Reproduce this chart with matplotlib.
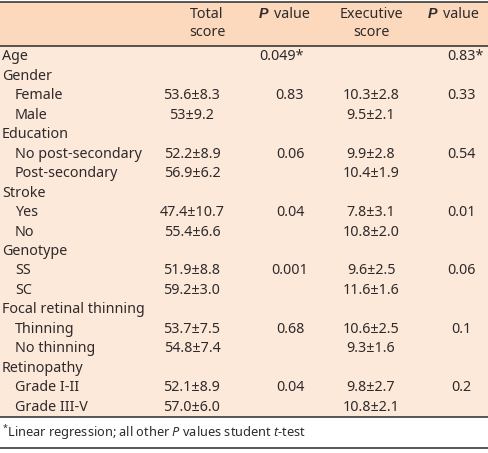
import matplotlib.pyplot as plt
from matplotlib.patches import Rectangle

plt.rcParams['font.family'] = ['Noto Sans', 'DejaVu Sans']
plt.rcParams['mathtext.fontset'] = 'custom'
plt.rcParams['mathtext.rm'] = 'Noto Sans'
plt.rcParams['mathtext.it'] = 'Noto Sans:italic'

# table content
groups = ['Age', 'Gender', 'Education', 'Stroke', 'Genotype',
          'Focal retinal thinning', 'Retinopathy']
subgroups = [[], ['Female', 'Male'], ['No post-secondary', 'Post-secondary'],
             ['Yes', 'No'], ['SS', 'SC'], ['Thinning', 'No thinning'],
             ['Grade I-II', 'Grade III-V']]
total_score = [[], ['53.6±8.3', '53±9.2'], ['52.2±8.9', '56.9±6.2'],
               ['47.4±10.7', '55.4±6.6'], ['51.9±8.8', '59.2±3.0'],
               ['53.7±7.5', '54.8±7.4'], ['52.1±8.9', '57.0±6.0']]
p_total = ['0.049*', '0.83', '0.06', '0.04', '0.001', '0.68', '0.04']
exec_score = [[], ['10.3±2.8', '9.5±2.1'], ['9.9±2.8', '10.4±1.9'],
              ['7.8±3.1', '10.8±2.0'], ['9.6±2.5', '11.6±1.6'],
              ['10.6±2.5', '9.3±1.6'], ['9.8±2.7', '10.8±2.1']]
p_exec = ['0.83*', '0.33', '0.54', '0.01', '0.06', '0.1', '0.2']

W, H = 488, 453
fig = plt.figure(figsize=(W / 100, H / 100), dpi=100)
ax = fig.add_axes([0, 0, 1, 1])
ax.set_xlim(0, W)
ax.set_ylim(H, 0)
ax.axis('off')

txt = '#2e2a2b'
fs = 10.3
head_bg = '#fcd9bd'
body_bg = '#fde9da'

top, head_bot, body_bot, foot_bot = 2, 46, 417, 448
ax.add_patch(Rectangle((0, top), W, head_bot - top, color=head_bg, lw=0))
ax.add_patch(Rectangle((0, head_bot), W, body_bot - head_bot, color=body_bg, lw=0))
for y in [top, head_bot, body_bot, foot_bot]:
    ax.plot([0, W], [y, y], color='#2b2b2b', lw=1.1)

col_x = [192, 290, 371, 461]

# header
ax.text(207, 14, 'Total', ha='center', va='center', fontsize=fs, color=txt)
ax.text(207, 33, 'score', ha='center', va='center', fontsize=fs, color=txt)
ax.text(col_x[2], 14, 'Executive', ha='center', va='center', fontsize=fs, color=txt)
ax.text(col_x[2], 33, 'score', ha='center', va='center', fontsize=fs, color=txt)
for px in [259, 428]:
    ax.text(px, 14, 'P', ha='left', va='center', fontsize=fs, color=txt,
            fontweight='bold', fontstyle='italic', family='Liberation Sans')
    ax.text(px + 15, 14, 'value', ha='left', va='center', fontsize=fs, color=txt)

# body
row_h = 19.45
y = 57
for i, g in enumerate(groups):
    ax.text(2, y, g, ha='left', va='center', fontsize=fs, color=txt)
    if not subgroups[i]:
        ax.text(304, y, p_total[i], ha='right', va='center', fontsize=fs, color=txt)
        ax.text(484, y, p_exec[i], ha='right', va='center', fontsize=fs, color=txt)
        y += row_h
        continue
    y += row_h
    for j, s in enumerate(subgroups[i]):
        ax.text(15, y, s, ha='left', va='center', fontsize=fs, color=txt)
        ax.text(col_x[0], y, total_score[i][j], ha='center', va='center', fontsize=fs, color=txt)
        ax.text(col_x[2], y, exec_score[i][j], ha='center', va='center', fontsize=fs, color=txt)
        if j == 0:
            ax.text(col_x[1], y, p_total[i], ha='center', va='center', fontsize=fs, color=txt)
            ax.text(col_x[3], y, p_exec[i], ha='center', va='center', fontsize=fs, color=txt)
        y += row_h

# footnote
ax.text(2, 433, r'$^{*}$Linear regression; all other $\it{P}$ values student $\it{t}$-test',
        ha='left', va='center', fontsize=9.2, color=txt)

fig.savefig('out.png', dpi=100)
